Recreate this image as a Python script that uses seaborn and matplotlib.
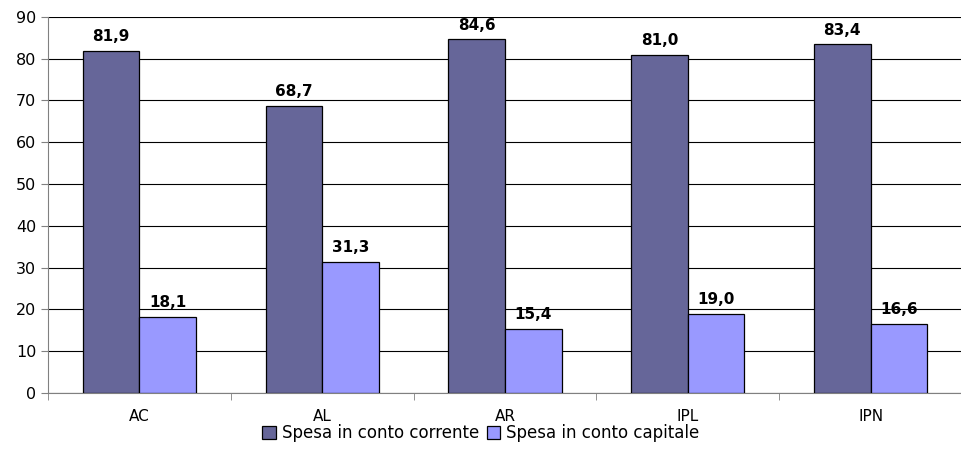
import pandas as pd
import seaborn as sns
import matplotlib.pyplot as plt
import numpy as np

# 數據
categorie = ['AC', 'AL', 'AR', 'IPL', 'IPN']
spesa_corrente = [81.9, 68.7, 84.6, 81.0, 83.4]
spesa_capitale = [18.1, 31.3, 15.4, 19.0, 16.6]
serie = ['Spesa in conto corrente', 'Spesa in conto capitale']

df = pd.DataFrame({
    'cat': categorie * 2,
    'valore': spesa_corrente + spesa_capitale,
    'serie': [serie[0]] * 5 + [serie[1]] * 5,
})

sns.set_style('white')
plt.rcParams['font.family'] = ['DejaVu Sans']
plt.rcParams['text.color'] = 'black'
plt.rcParams['xtick.color'] = 'black'
plt.rcParams['ytick.color'] = 'black'

fig = plt.figure(figsize=(9.62, 4.57), dpi=100)
ax = fig.add_axes([0.05, 0.14, 0.95, 0.823])

ax = sns.barplot(data=df, x='cat', y='valore', hue='serie', order=categorie,
                 hue_order=serie, palette=['#666699', '#9999FF'], saturation=1,
                 width=0.62, edgecolor='black', linewidth=0.9, ax=ax, zorder=3)

# etichette sopra le barre
for container in ax.containers:
    ax.bar_label(container, labels=[f'{v:.1f}'.replace('.', ',') for v in container.datavalues],
                 padding=5, fontsize=11, fontweight='bold', color='black')

ax.set_ylim(0, 90)
ax.set_yticks(np.arange(0, 91, 10))
ax.set_xlim(-0.5, len(categorie) - 0.5)
ax.yaxis.grid(True, color='black', linewidth=0.8, zorder=0)
ax.set_axisbelow(True)
ax.set_xlabel('')
ax.set_ylabel('')

for s in ['top', 'right']:
    ax.spines[s].set_visible(False)
ax.spines['left'].set_color('#808080')
ax.spines['bottom'].set_color('#808080')

ax.tick_params(axis='y', left=True, length=5, color='#808080', labelcolor='black', labelsize=11.5)
ax.tick_params(axis='x', bottom=False, labelcolor='black', labelsize=11, pad=8)
# tacche tra le categorie
ax.set_xticks(np.arange(-0.5, len(categorie), 1), minor=True)
ax.tick_params(axis='x', which='minor', bottom=True, length=5, color='#808080')

handles, labels = ax.get_legend_handles_labels()
ax.get_legend().remove()
fig.legend(handles, labels, loc='center', bbox_to_anchor=(0.5, 0.052), ncol=2, frameon=False,
           fontsize=12, handlelength=0.8, handleheight=0.8, handletextpad=0.35,
           columnspacing=0.5)

plt.savefig('out.png', dpi=100)
